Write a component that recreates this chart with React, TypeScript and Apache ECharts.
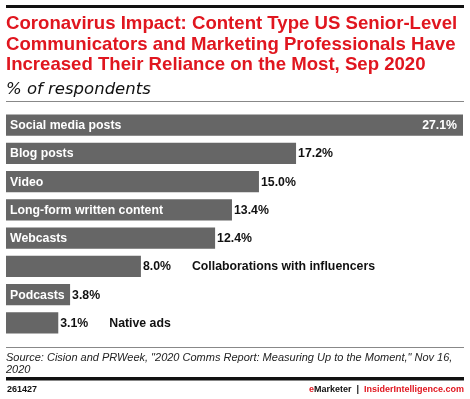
import React, { useEffect, useRef } from "react";
import * as echarts from "echarts";

const categories = [
  "Social media posts",
  "Blog posts",
  "Video",
  "Long-form written content",
  "Webcasts",
  "Collaborations with influencers",
  "Podcasts",
  "Native ads",
];
const values = [27.1, 17.2, 15.0, 13.4, 12.4, 8.0, 3.8, 3.1];
// categories whose names are printed outside the bar, after the value
const outsideNames = ["Collaborations with influencers", "Native ads"];
// categories whose values are printed inside the bar
const insideValues = ["Social media posts"];

const titleLines = [
  "Coronavirus Impact: Content Type US Senior-Level",
  "Communicators and Marketing Professionals Have",
  "Increased Their Reliance on the Most, Sep 2020",
];
const subtitle = "% of respondents";
const sourceLines = [
  'Source: Cision and PRWeek, "2020 Comms Report: Measuring Up to the Moment," Nov 16,',
  "2020",
];
const chartId = "261427";

const RED = "#e0161f";
const BAR = "#666666";
const FONT = "'Liberation Sans', Arial, sans-serif";
const WIDE = "'DejaVu Sans', sans-serif";

export default function App() {
  const ref = useRef<HTMLDivElement>(null);
  useEffect(() => {
    if (!ref.current) return;
    const chart = echarts.init(ref.current, null, { renderer: "svg" });

    const nameData = values.map((v, i) => ({
      value: v,
      label: { show: !outsideNames.includes(categories[i]) },
    }));
    const valueData = values.map((v, i) => {
      const inside = insideValues.includes(categories[i]);
      return {
        value: v,
        label: inside
          ? { position: "insideRight", color: "#fff", distance: 6 }
          : { position: "right", color: "#111", distance: 2 },
      };
    });

    const graphic: any[] = [
      { type: "rect", shape: { x: 6, y: 5, width: 458, height: 3 }, style: { fill: "#111" } },
      ...titleLines.map((t, i) => ({
        type: "text",
        x: 6,
        y: 22.5 + i * 20.7,
        style: {
          text: t,
          fill: RED,
          font: `bold 18.6px ${FONT}`,
          textVerticalAlign: "middle",
        },
      })),
      {
        type: "text",
        x: 6,
        y: 88,
        style: {
          text: subtitle,
          fill: "#111",
          font: `oblique 16.5px ${WIDE}`,
          textVerticalAlign: "middle",
        },
      },
      { type: "rect", shape: { x: 6, y: 101, width: 458, height: 1 }, style: { fill: "#888" } },
      { type: "rect", shape: { x: 6, y: 347, width: 458, height: 1 }, style: { fill: "#888" } },
      ...sourceLines.map((t, i) => ({
        type: "text",
        x: 6,
        y: 357 + i * 11.5,
        style: {
          text: t,
          fill: "#222",
          font: `italic 11px ${FONT}`,
          textVerticalAlign: "middle",
        },
      })),
      { type: "rect", shape: { x: 6, y: 377, width: 458, height: 3.5 }, style: { fill: "#111" } },
      {
        type: "text",
        x: 7,
        y: 389,
        style: {
          text: chartId,
          fill: "#111",
          font: `bold 9px ${FONT}`,
          textVerticalAlign: "middle",
        },
      },
      {
        type: "text",
        x: 464,
        y: 389,
        style: {
          text: "{r|e}{k|Marketer}{s||}{r|InsiderIntelligence.com}",
          align: "right",
          verticalAlign: "middle",
          rich: {
            r: { fill: RED, font: `bold 9px ${FONT}` },
            k: { fill: "#111", font: `bold 9px ${FONT}` },
            s: { fill: "#111", font: `bold 9px ${FONT}`, padding: [0, 5, 0, 5] },
          },
        },
      },
    ];

    chart.setOption({
      animation: false,
      grid: { left: 6, right: 7, top: 111, height: 226, containLabel: false },
      xAxis: { type: "value", min: 0, max: 27.1, show: false },
      yAxis: {
        type: "category",
        data: categories,
        inverse: true,
        show: false,
      },
      series: [
        {
          type: "bar",
          data: nameData,
          barCategoryGap: "24%",
          itemStyle: { color: BAR },
          label: {
            show: true,
            position: "insideLeft",
            distance: 4,
            formatter: "{b}",
            color: "#fff",
            fontFamily: FONT,
            fontWeight: "bold",
            fontSize: 12.3,
          },
        },
        {
          type: "bar",
          data: valueData,
          barGap: "-100%",
          barCategoryGap: "24%",
          itemStyle: { color: "rgba(0,0,0,0)" },
          label: {
            show: true,
            fontFamily: FONT,
            fontWeight: "bold",
            fontSize: 12.3,
            formatter: (p: any) => {
              const txt = p.value.toFixed(1) + "%";
              if (outsideNames.includes(p.name)) {
                return `{v|${txt}}{n|${p.name}}`;
              }
              return txt;
            },
            rich: {
              v: { fontFamily: FONT, fontWeight: "bold", fontSize: 12.3, color: "#111" },
              n: {
                fontFamily: FONT,
                fontWeight: "bold",
                fontSize: 12.3,
                color: "#111",
                padding: [0, 0, 0, 21],
              },
            },
          },
        },
      ],
      graphic,
    });
    return () => chart.dispose();
  }, []);
  return (
    <div
      ref={ref}
      style={{ position: "fixed", left: 0, top: 0, width: 470, height: 399 }}
    />
  );
}
